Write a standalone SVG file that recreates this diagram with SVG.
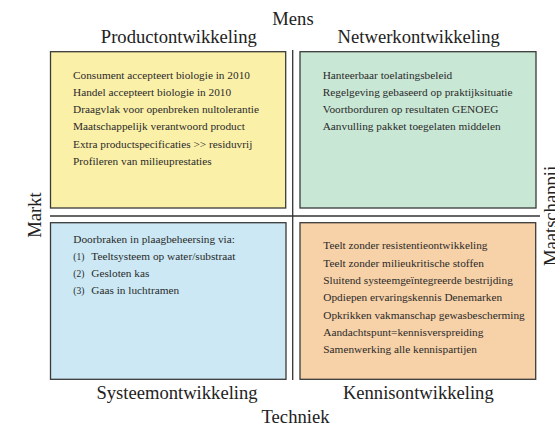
<svg xmlns="http://www.w3.org/2000/svg" width="555" height="427" viewBox="0 0 555 427">
<style>
.h{font-family:"Liberation Serif","Times New Roman",serif;font-size:18.6px;fill:#222;text-anchor:middle}
.t{font-family:"Liberation Serif","Times New Roman",serif;font-size:11.3px;fill:#2a2a2a}
.n{font-size:9.5px}
.box{stroke:#3a3a3a;stroke-width:1.3}
.ax{stroke:#333;stroke-width:1.3;fill:none}
</style>
<rect width="555" height="427" fill="#fff"/>
<g id="axes">
<line class="ax" x1="50" y1="216" x2="540" y2="216"/>
<line class="ax" x1="292.7" y1="50" x2="292.7" y2="380"/>
</g>
<g id="labels">
<text class="h" x="293" y="25">Mens</text>
<text class="h" x="295.5" y="423">Techniek</text>
<text class="h" transform="translate(41,215) rotate(-90)">Markt</text>
<text class="h" transform="translate(556.5,216) rotate(-90)">Maatschappij</text>
</g>
<g id="productontwikkeling">
<text class="h" x="178.8" y="42.5">Productontwikkeling</text>
<rect class="box" x="50.5" y="51.7" width="235.2" height="156.3" fill="#fbf0a8"/>
<text class="t" x="73" y="78.5">Consument accepteert biologie in 2010</text>
<text class="t" x="73" y="95.8">Handel accepteert biologie in 2010</text>
<text class="t" x="73" y="113.1">Draagvlak voor openbreken nultolerantie</text>
<text class="t" x="73" y="130.4">Maatschappelijk verantwoord product</text>
<text class="t" x="73" y="147.7">Extra productspecificaties &gt;&gt; residuvrij</text>
<text class="t" x="73" y="165">Profileren van milieuprestaties</text>
</g>
<g id="netwerkontwikkeling">
<text class="h" x="418.7" y="42.5">Netwerkontwikkeling</text>
<rect class="box" x="300" y="51.7" width="236" height="156.3" fill="#c9e7d5"/>
<text class="t" x="322.7" y="78.5">Hanteerbaar toelatingsbeleid</text>
<text class="t" x="322.7" y="95.8">Regelgeving gebaseerd op praktijksituatie</text>
<text class="t" x="322.7" y="113.1">Voortborduren op resultaten GENOEG</text>
<text class="t" x="322.7" y="130.4">Aanvulling pakket toegelaten middelen</text>
</g>
<g id="systeemontwikkeling">
<rect class="box" x="50.5" y="222.7" width="235.5" height="156.6" fill="#cbe8f4"/>
<text class="t" x="73.3" y="242.8">Doorbraken in plaagbeheersing via:</text>
<text class="t" x="73.3" y="260"><tspan class="n">(1)</tspan><tspan x="91.3">Teeltsysteem op water/substraat</tspan></text>
<text class="t" x="73.3" y="277"><tspan class="n">(2)</tspan><tspan x="91.3">Gesloten kas</tspan></text>
<text class="t" x="73.3" y="294.3"><tspan class="n">(3)</tspan><tspan x="91.3">Gaas in luchtramen</tspan></text>
<text class="h" x="177" y="398.5">Systeemontwikkeling</text>
</g>
<g id="kennisontwikkeling">
<rect class="box" x="300" y="222.7" width="235.7" height="156.6" fill="#f7d1a7"/>
<text class="t" x="323.3" y="249.3">Teelt zonder resistentieontwikkeling</text>
<text class="t" x="323.3" y="266.6">Teelt zonder milieukritische stoffen</text>
<text class="t" x="323.3" y="283.9">Sluitend systeemgeïntegreerde bestrijding</text>
<text class="t" x="323.3" y="301.2">Opdiepen ervaringskennis Denemarken</text>
<text class="t" x="323.3" y="318.5">Opkrikken vakmanschap gewasbescherming</text>
<text class="t" x="323.3" y="335.8">Aandachtspunt=kennisverspreiding</text>
<text class="t" x="323.3" y="353.1">Samenwerking alle kennispartijen</text>
<text class="h" x="418.3" y="398.5">Kennisontwikkeling</text>
</g>
</svg>
